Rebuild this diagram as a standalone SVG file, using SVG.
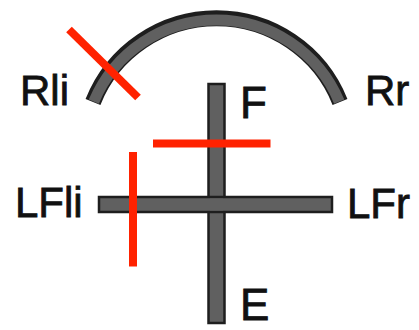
<svg xmlns="http://www.w3.org/2000/svg" width="419" height="330" viewBox="0 0 419 330">
<style>
.lbl{font-family:"Liberation Sans",Arial,sans-serif;font-size:42px;fill:#111;stroke:#111;stroke-width:0.8px}
.big{font-size:44px}
.bar{fill:#606060;stroke:#1e1e1e;stroke-width:2.5}
.red{stroke:#ff2200;stroke-width:8;fill:none}
</style>
<rect width="419" height="330" fill="#ffffff"/>
<g id="arc">
<path d="M 93 102 A 133 133 0 0 1 340 102" fill="none" stroke="#1e1e1e" stroke-width="16"/>
<path d="M 93.8 101.6 A 133 133 0 0 1 339.2 101.6" fill="none" stroke="#606060" stroke-width="11"/>
</g>
<g id="cross">
<rect class="bar" x="208.5" y="84" width="16" height="239"/>
<rect class="bar" x="99" y="197" width="233" height="15"/>
<rect x="210" y="198.5" width="13" height="12" fill="#606060"/>
</g>
<g id="labels">
<text class="lbl" x="20" y="105">Rli</text>
<text class="lbl" x="365" y="105">Rr</text>
<text class="lbl" x="15" y="217">LFli</text>
<text class="lbl" x="347" y="218">LFr</text>
<text class="lbl big" x="240" y="118">F</text>
<text class="lbl big" x="240" y="320">E</text>
</g>
<g id="connectors">
<line class="red" x1="69" y1="29.5" x2="138" y2="97.5"/>
<line class="red" x1="153" y1="143.5" x2="270.5" y2="143.5"/>
<line class="red" x1="133" y1="152" x2="133" y2="266.5"/>
</g>
</svg>
